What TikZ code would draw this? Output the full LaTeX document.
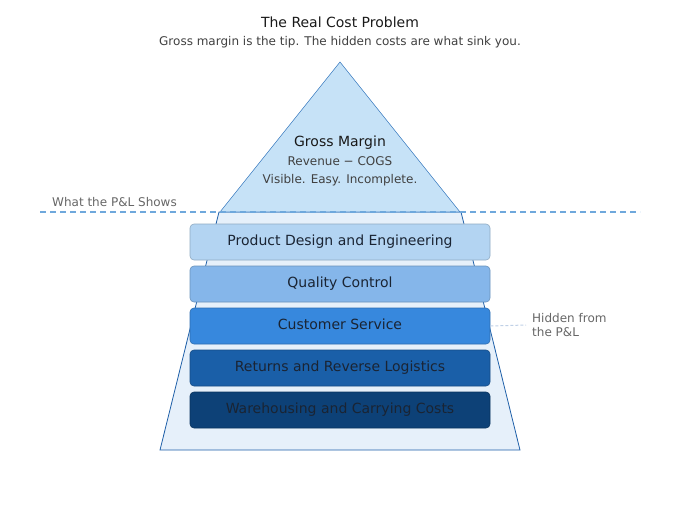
\documentclass[tikz,border=0pt]{standalone}
\usepackage{fontspec}
\setmainfont{DejaVu Sans}
\usetikzlibrary{calc, positioning}

\definecolor{tipfill}{HTML}{C6E2F7}
\definecolor{tipline}{HTML}{4A86C5}
\definecolor{basefill}{HTML}{E6F0FA}
\definecolor{hullline}{HTML}{1E5FA8}
\definecolor{waterline}{HTML}{6FA8DC}
\definecolor{leader}{HTML}{BFD0E6}
\definecolor{layertext}{HTML}{1A2433}
\definecolor{costA}{HTML}{B3D4F2}
\definecolor{costB}{HTML}{85B6EA}
\definecolor{costC}{HTML}{3788DD}
\definecolor{costD}{HTML}{1A5FA8}
\definecolor{costE}{HTML}{0D4177}

\tikzset{
    layer/.style={draw=#1!80!black, fill=#1, rounded corners=4pt, line width=0.6pt,
        minimum width=300pt, minimum height=36pt, inner sep=0pt,
        text height=10pt, text depth=3pt,
        text=layertext, font=\fontsize{14}{16}\selectfont},
    note/.style={text=black!60, font=\fontsize{12}{14}\selectfont, inner sep=0pt}
}

\begin{document}
\begin{tikzpicture}[x=1pt, y=-1pt]
    \useasboundingbox (0, 0) rectangle (680, 520);

    % iceberg: hidden base and visible tip
    \draw[draw=hullline, fill=basefill, line width=0.8pt] (219, 212) -- (461, 212) -- (520, 450) -- (160, 450) -- cycle;
    \draw[draw=tipline, fill=tipfill, line width=0.6pt] (340, 62) -- (460, 212) -- (220, 212) -- cycle;

    \node[text=black!90] (title) at (340, 22) {\fontsize{14}{16}\selectfont The Real Cost Problem};
    \node[text=black!75] (sub) at (340, 42) {\fontsize{12}{14}\selectfont Gross margin is the tip. The hidden costs are what sink you.};

    \node[text=black!90] (gm) at (340, 143) {\fontsize{14}{16}\selectfont Gross Margin\strut};
    \node[text=black!75] (gmcalc) at (340, 161) {\fontsize{12}{14}\selectfont Revenue − COGS};
    \node[text=black!75] (gmnote) at (340, 180) {\fontsize{12}{14}\selectfont Visible. Easy. Incomplete.};

    \coordinate (wl) at (40, 212);
    \coordinate (wr) at (640, 212);
    \draw[waterline, dash pattern=on 6pt off 4pt, line width=1.2pt] (wl) -- (wr);
    \node[note, anchor=base west] (pl) at (52, 206) {What the P\&L Shows};

    \node[layer=costA] (design) at (340, 242) {Product Design and Engineering};
    \node[layer=costB] (quality) at (340, 284) {Quality Control};
    \node[layer=costC] (service) at (340, 326) {Customer Service};
    \node[layer=costD] (returns) at (340, 368) {Returns and Reverse Logistics};
    \node[layer=costE] (storage) at (340, 410) {Warehousing and Carrying Costs};

    \node[note, align=left, anchor=west] (hidden) at (532, 325) {Hidden from\\the P\&L};
    \draw[leader, dash pattern=on 3pt off 2pt, line width=1pt] (service.east) -- ([xshift=-6pt]hidden.west);
\end{tikzpicture}
\end{document}
